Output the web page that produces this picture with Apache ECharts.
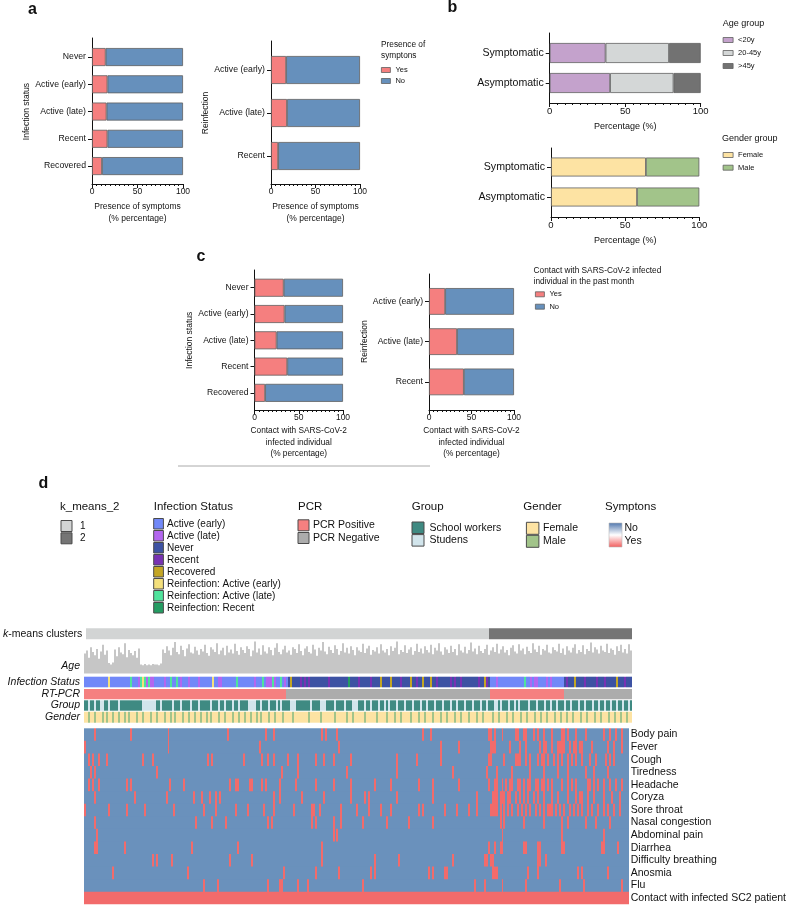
<!DOCTYPE html>
<html><head><meta charset="utf-8">
<script src="https://cdn.jsdelivr.net/npm/echarts@6/dist/echarts.min.js"></script>
<style>html,body{margin:0;padding:0;background:#fff}#c{width:789px;height:908px}</style>
</head><body><div id="c"></div><script>
// ---------------- DATA ----------------
const infectionStatus = ['Never','Active (early)','Active (late)','Recent','Recovered'];
const reinfection = ['Active (early)','Active (late)','Recent'];
const symptomsYesInf = [15, 17, 16, 17, 11];
const symptomsNoInf  = [85, 83, 84, 83, 89];
const symptomsYesRe  = [17, 18, 8];
const symptomsNoRe   = [83, 82, 92];
const contactYesInf  = [33, 34, 25, 37, 12];
const contactNoInf   = [67, 66, 75, 63, 88];
const contactYesRe   = [19, 33, 41];
const contactNoRe    = [81, 67, 59];
const symGroups = ['Symptomatic','Asymptomatic'];
const ageLt20   = [37, 40];
const age20to45 = [42, 42];
const ageGt45   = [21, 18];
const femalePct = [64, 58];
const malePct   = [36, 42];

// heatmap (274 sample columns)
const N = 274;
const kmeansCluster2Start = 202;
const pcrPositiveRuns = [[0,100],[203,239]];
const statusNames = ['Active (early)','Active (late)','Never','Recent','Recovered','Reinfection: Active (early)','Reinfection: Active (late)','Reinfection: Recent'];
const statusBaseRuns = [[0,101,0],[102,202,2],[203,239,0],[240,273,2]];
const statusMarks = [[12,5],[23,6],[27,1],[28,6],[29,5],[30,6],[31,1],[32,6],[33,1],[34,1],[40,1],[43,6],[46,6],[48,1],[52,1],[57,1],[64,5],[67,1],[68,1],[76,6],[85,1],[89,6],[91,1],[92,1],[93,1],[94,6],[95,1],[98,6],[100,1],
  [103,4],[108,3],[110,3],[112,3],[122,3],[132,7],[137,3],[143,3],[148,4],[153,4],[158,3],[163,4],[166,3],[169,4],[173,4],[176,3],[183,3],[185,3],[188,3],[197,3],[200,4],[201,3],
  [206,1],[220,6],[223,1],[225,1],[226,1],[231,1],[233,1],
  [241,3],[245,4],[250,3],[256,3],[260,3],[266,4],[270,3]];
const groupStudentCols = [2,5,8,9,12,17,29,30,31,32,33,34,35,38,44,48,53,57,63,67,70,74,77,82,83,84,85,88,92,96,98,103,104,105,113,118,119,120,125,130,134,135,136,140,143,147,150,152,156,160,164,168,171,175,179,183,186,190,194,198,201,205,206,208,212,215,217,222,226,230,233,236,240,243,247,250,254,257,260,263,266,269,272];
const genderMaleCols = [2,5,9,11,14,17,20,22,26,29,33,36,40,43,45,49,52,55,58,61,63,67,70,74,77,80,83,86,88,92,95,99,104,112,118,125,131,134,140,146,151,155,158,163,167,170,174,178,181,185,188,192,196,199,204,207,211,214,218,221,225,228,231,235,238,241,244,248,251,255,258,262,265,268,271];
const ageValues = [
 38,44,30,50,41,35,47,28,42,55,36,44,20,17,21,46,33,50,40,37,
 58,31,45,39,35,43,30,48,17,16,18,16,17,16,18,17,17,16,19,46,
 39,52,44,35,49,60,41,37,53,45,33,48,56,40,38,51,44,36,47,42,
 55,39,34,50,46,41,58,37,44,49,35,53,40,46,38,57,43,36,50,45,
 39,52,47,33,44,61,40,48,36,54,42,38,50,45,35,49,58,41,37,46,
 53,40,44,36,50,47,39,56,43,35,48,52,41,38,55,46,34,49,44,60,
 42,37,51,45,39,54,47,36,43,58,40,49,38,52,45,35,50,44,41,57,
 39,48,53,36,45,42,50,38,56,44,40,47,35,52,43,49,61,37,45,41,
 54,39,46,50,36,43,57,41,48,38,52,45,40,55,37,49,44,58,42,36,
 50,46,39,53,41,47,35,56,44,40,51,38,45,59,42,48,37,53,43,39,
 47,55,36,44,50,41,57,38,46,52,40,45,35,49,54,42,38,56,44,48,
 37,51,43,39,58,46,41,53,36,47,44,55,40,38,50,45,42,57,39,48,
 36,52,44,40,49,56,38,45,41,54,37,47,43,59,40,50,46,38,53,44,
 41,57,39,48,45,36,52,43,55,40,47,38,56,44];
const symptomNames = ['Body pain','Fever','Cough','Tiredness','Headache','Coryza','Sore throat','Nasal congestion','Abdominal pain','Diarrhea','Difficulty breathing','Anosmia','Flu','Contact with infected SC2 patient'];
const symptomYesCols = [
 [5,23,42,72,91,95,119,121,127,170,174,203,204,206,210,217,218,221,222,226,228,231,235,240,241,243,247,252,261,264,267,270],
 [0,42,88,128,179,188,204,205,206,214,219,222,229,231,232,235,238,239,240,241,244,246,247,249,250,255,263,266,270],
 [2,4,7,11,29,34,62,64,80,89,92,95,102,107,116,120,125,134,157,167,179,203,204,211,217,218,219,222,224,228,230,231,233,236,238,240,243,245,247,250,254,257,262,264,266],
 [3,5,36,99,107,132,157,185,202,207,215,224,231,238,243,252,256,263],
 [2,4,7,21,23,43,50,73,76,77,83,84,89,91,98,106,116,125,134,146,154,168,175,188,203,206,207,210,212,214,215,218,219,221,223,224,227,228,230,231,233,235,240,243,245,247,253,254,256,258,261,264,267,270],
 [5,25,41,55,59,63,66,68,95,98,109,120,134,141,143,157,175,197,205,206,207,209,210,211,213,214,217,219,221,223,226,228,231,235,238,243,247,249,250,253,256,261,265,269],
 [0,12,21,30,45,60,66,76,82,90,95,105,114,115,118,129,137,143,149,154,168,170,181,187,193,197,204,205,206,207,209,211,213,215,218,220,222,224,227,229,231,233,234,235,237,239,241,244,246,248,250,253,255,258,261,263,266,269],
 [5,56,64,71,92,94,114,116,125,129,140,152,163,175,209,211,221,231,240,243,252,257,264],
 [6,125,127,210,240,261],
 [5,6,20,54,77,119,203,206,209,210,221,222,228,229,240,241,260,261,268],
 [34,36,44,73,84,119,146,158,185,201,202,204,205,228,229,232],
 [14,52,100,116,128,144,146,173,175,181,182,205,206,207,223,228,248,250,263],
 [60,67,92,98,99,107,112,140,196,201,210,222,239,251,270],
 null
];
const contactNoCols = [];

// ---------------- COLOURS ----------------
const RED = '#f57f7f', BLUE = '#6690bc';
const FONT = '"Liberation Sans", Arial, sans-serif';
const statusColors = ['#7188f8','#b366ef','#3d52a3','#7832b3','#c4a624','#f4e07c','#4fe39c','#249c62'];

// ---------------- BUILD ----------------
const grids=[], xAxes=[], yAxes=[], series=[], legends=[], graphics=[];
function addGrid(g){ grids.push(Object.assign({containLabel:false, show:false}, g)); return grids.length-1; }

function barPanel(o){
  const gf = addGrid({left:o.left, width:o.width, top:o.axTop, height:o.axBottom-o.axTop});
  xAxes.push({gridIndex:gf, type:'value', min:0, max:100, interval:50,
    axisLine:{show:true, lineStyle:{color:'#111',width:1}},
    axisTick:{show:true,length:4,lineStyle:{color:'#111'}},
    minorTick:{show:true, splitNumber:10, length:2, lineStyle:{color:'#111'}},
    splitLine:{show:false}, minorSplitLine:{show:false},
    axisLabel:{fontSize:o.tickFont, color:'#111', margin:3, fontFamily:FONT},
    name:o.xName, nameLocation:'middle', nameGap:o.xNameGap,
    nameTextStyle:{fontSize:o.xNameFont, color:'#111', fontFamily:FONT, lineHeight:o.xNameLH}});
  yAxes.push({gridIndex:gf, type:'value', min:0, max:1, axisLine:{show:true, lineStyle:{color:'#111'}}, axisTick:{show:false}, axisLabel:{show:false}, splitLine:{show:false}});
  const gb = addGrid({left:o.left, width:o.width, top:o.barTop, height:o.barBottom-o.barTop});
  xAxes.push({gridIndex:gb, type:'value', min:0, max:100, show:false});
  yAxes.push({gridIndex:gb, type:'category', data:o.cats, inverse:true,
    axisLine:{show:false}, axisTick:{show:true, alignWithLabel:true, length:4, lineStyle:{color:'#111'}},
    axisLabel:{fontSize:o.catFont, color:'#111', margin:6, fontFamily:FONT, interval:0},
    name:o.yName||'', nameLocation:'middle', nameRotate:90, nameGap:o.yNameGap||0,
    nameTextStyle:{fontSize:o.yNameFont||8.5, color:'#111', fontFamily:FONT}});
  const xb = xAxes.length-1, yb = yAxes.length-1;
  o.series.forEach(s=>series.push({type:'bar', name:s.name, stack:'st'+gb, xAxisIndex:xb, yAxisIndex:yb,
    data:s.data, barWidth:o.barW, itemStyle:{color:s.color, borderColor:'#606060', borderWidth:0.8},
    emphasis:{disabled:true}, silent:true, animation:false}));
}

// Panel a
barPanel({left:92,width:91,axTop:38,axBottom:184,barTop:43.4,barBottom:179.7,barW:18,cats:infectionStatus,
  catFont:8.7,tickFont:8.5,xName:'Presence of symptoms\n(% percentage)',xNameGap:17,xNameFont:8.5,xNameLH:12,
  yName:'Infection status',yNameGap:58,yNameFont:8.5,
  series:[{name:'Yes',data:symptomsYesInf,color:RED},{name:'No',data:symptomsNoInf,color:BLUE}]});
barPanel({left:271,width:89,axTop:41,axBottom:184,barTop:48.5,barBottom:177.5,barW:28,cats:reinfection,
  catFont:8.7,tickFont:8.5,xName:'Presence of symptoms\n(% percentage)',xNameGap:17,xNameFont:8.5,xNameLH:12,
  yName:'Reinfection',yNameGap:58,yNameFont:8.5,
  series:[{name:'Yes',data:symptomsYesRe,color:RED},{name:'No',data:symptomsNoRe,color:BLUE}]});
// Panel b
barPanel({left:549.7,width:151,axTop:33,axBottom:103,barTop:38,barBottom:98,barW:20,cats:symGroups,
  catFont:10.6,tickFont:9.5,xName:'Percentage (%)',xNameGap:18,xNameFont:9,xNameLH:12,
  series:[{name:'<20y',data:ageLt20,color:'#c4a2cc'},{name:'20-45y',data:age20to45,color:'#d4d7d7'},{name:'>45y',data:ageGt45,color:'#727272'}]});
barPanel({left:551,width:148.3,axTop:148,axBottom:217,barTop:152,barBottom:212,barW:19,cats:symGroups,
  catFont:10.6,tickFont:9.5,xName:'Percentage (%)',xNameGap:17.5,xNameFont:9,xNameLH:12,
  series:[{name:'Female',data:femalePct,color:'#fde3a3'},{name:'Male',data:malePct,color:'#a2c48a'}]});
// Panel c
barPanel({left:254.5,width:88.5,axTop:270,axBottom:410,barTop:274.6,barBottom:406,barW:18,cats:infectionStatus,
  catFont:8.6,tickFont:8.5,xName:'Contact with SARS-CoV-2\ninfected individual\n(% percentage)',xNameGap:15,xNameFont:8.3,xNameLH:11.5,
  yName:'Infection status',yNameGap:58,yNameFont:8.5,
  series:[{name:'Yes',data:contactYesInf,color:RED},{name:'No',data:contactNoInf,color:BLUE}]});
barPanel({left:429,width:85,axTop:274,axBottom:410,barTop:281.3,barBottom:402,barW:26.7,cats:reinfection,
  catFont:8.6,tickFont:8.5,xName:'Contact with SARS-CoV-2\ninfected individual\n(% percentage)',xNameGap:15,xNameFont:8.3,xNameLH:11.5,
  yName:'Reinfection',yNameGap:54,yNameFont:8.5,
  series:[{name:'Yes',data:contactYesRe,color:RED},{name:'No',data:contactNoRe,color:BLUE}]});

function legend(names, left, top, gap, iw, ih){
  legends.push({data:names, left, top, orient:'vertical', itemWidth:iw, itemHeight:ih, itemGap:gap, icon:'rect',
    selectedMode:false, padding:0, itemStyle:{borderColor:'#606060',borderWidth:0.8},
    textStyle:{fontSize:7.5, fontFamily:FONT, color:'#111', lineHeight:8}});
}
legend(['Yes','No'], 381, 66, 3, 9, 5);
legend(['<20y','20-45y','>45y'], 722.7, 36, 5, 10, 5);
legend(['Female','Male'], 722.7, 151, 4.7, 10, 5);
legend(['Yes','No'], 535, 290.3, 4.4, 9, 5);

function txt(text, x, y, size, opts){
  graphics.push({type:'text', x, y, silent:true, style:Object.assign({text, fontSize:size, fontFamily:FONT, fill:'#111', align:'left', verticalAlign:'middle'}, opts||{})});
}
txt('a', 32.5, 10, 16, {fontWeight:'bold', align:'center'});
txt('b', 452.5, 8, 16, {fontWeight:'bold', align:'center'});
txt('c', 201, 257, 16, {fontWeight:'bold', align:'center'});
txt('d', 43.5, 484, 16, {fontWeight:'bold', align:'center'});
txt('Presence of\nsymptons', 381, 50, 8.3, {lineHeight:11.5});
txt('Age group', 722.7, 24, 9);
txt('Gender group', 722, 139, 9);
txt('Contact with SARS-CoV-2 infected\nindividual in the past month', 533.6, 276, 8.3, {lineHeight:10.5});
graphics.push({type:'line', silent:true, shape:{x1:178,y1:466,x2:430,y2:466}, style:{stroke:'#aaaaaa', lineWidth:1}});

// ---- heatmap: per-sample values grouped into runs, drawn through the category axes
const cols = Array.from({length:N},(_,i)=>i);
function toRuns(rowValues, r){ // rowValues: array of N category codes
  const out=[]; let s=0;
  for(let i=1;i<=N;i++){ if(i===N || rowValues[i]!==rowValues[s]){ out.push([s,i-1,r,rowValues[s]]); s=i; } }
  return out;
}
function heat(top, height, rowLabels, rowsValues, colors, yOpts){
  const g = addGrid({left:84, width:548, top, height});
  xAxes.push({gridIndex:g, type:'category', data:cols, show:false});
  yAxes.push(Object.assign({gridIndex:g, type:'category', data:rowLabels, inverse:true, axisLine:{show:false}, axisTick:{show:false}, splitLine:{show:false},
    axisLabel:{fontSize:10.5, fontStyle:'italic', color:'#111', margin:4, fontFamily:FONT, interval:0}}, yOpts||{}));
  const data = []; rowsValues.forEach((rv,r)=>toRuns(rv,r).forEach(d=>data.push(d)));
  const last = rowsValues.length-1;
  series.push({type:'custom', xAxisIndex:xAxes.length-1, yAxisIndex:yAxes.length-1, data, silent:true, animation:false,
    encode:{x:[0,1], y:2},
    renderItem:(params, api)=>{
      const a = api.coord([api.value(0), api.value(2)]);
      const b = api.coord([api.value(1), api.value(2)]);
      const s = api.size([1,1]);
      const x0 = Math.round(a[0]-s[0]/2), x1 = Math.round(b[0]+s[0]/2);
      const extra = api.value(2) < last ? 1 : 0;
      return {type:'rect', shape:{x:x0, y:a[1]-s[1]/2, width:x1-x0, height:s[1]+extra}, style:{fill:colors[api.value(3)]}};
    }});
}
heat(628.3, 11, ['k-means clusters'], [cols.map(c=>c>=kmeansCluster2Start?1:0)],
  ['#d2d4d4','#757575'],
  {axisLabel:{fontSize:10.5, color:'#111', margin:4, fontFamily:FONT, interval:0, formatter:()=>'{i|k}-means clusters', rich:{i:{fontStyle:'italic',fontSize:10.5,fontFamily:FONT}}}});
// age bars
{
  const g = addGrid({left:84, width:548, top:640, height:33.5});
  xAxes.push({gridIndex:g, type:'category', data:cols, show:false});
  yAxes.push({gridIndex:g, type:'value', min:0, max:64, show:false});
  series.push({type:'bar', xAxisIndex:xAxes.length-1, yAxisIndex:yAxes.length-1, data:ageValues, barCategoryGap:'0%', itemStyle:{color:'#c6c6c6'}, silent:true, animation:false});
  txt('Age', 80, 666, 10.5, {align:'right', fontStyle:'italic'});
}
const statusArr = new Array(N).fill(0);
statusBaseRuns.forEach(([a,b,v])=>{for(let i=a;i<=b;i++) statusArr[i]=v;});
statusMarks.forEach(([c,v])=>statusArr[c]=v);
heat(676.7, 10.6, ['Infection Status'], [statusArr], statusColors);
const pcrArr = cols.map(c=>pcrPositiveRuns.some(([a,b])=>c>=a&&c<=b)?1:0);
heat(689, 10.3, ['RT-PCR'], [pcrArr], ['#acacac','#f58080']);
heat(700.3, 10.4, ['Group'], [cols.map(c=>groupStudentCols.includes(c)?1:0)], ['#3f8a82','#d2e5ec']);
heat(711.7, 11, ['Gender'], [cols.map(c=>genderMaleCols.includes(c)?1:0)], ['#fde3a3','#a2c48a']);
const symRows = symptomNames.map((nm,r)=>{
  const yes = symptomYesCols[r];
  return cols.map(c=> yes ? (yes.includes(c)?1:0) : (contactNoCols.includes(c)?0:1));
});
heat(728.3, 176, symptomNames, symRows, ['#6a91bc','#f26b6b'],
  {position:'right', axisLabel:{fontSize:10.5, color:'#111', margin:2, fontFamily:FONT, interval:0}});

// ---- panel d legend (graphic)
function box(x,y,w,h,fill){ graphics.push({type:'rect', silent:true, shape:{x,y,width:w,height:h}, style:{fill, stroke:'#4a4a4a', lineWidth:1}}); }
const LT = 507;
txt('k_means_2', 60, LT, 11.5);
['1','2'].forEach((t,i)=>{ box(61,520.5+12.3*i,11,11,['#d2d4d4','#757575'][i]); txt(t,80,526+12.3*i,10); });
txt('Infection Status', 153.7, LT, 11.5);
statusNames.forEach((t,i)=>{ box(153.7,518.5+12*i,9.7,10.5,statusColors[i]); txt(t,167,524+12*i,10); });
txt('PCR', 298, LT, 11.5);
['PCR Positive','PCR Negative'].forEach((t,i)=>{ box(298,519.8+12.7*i,11,11,['#f58080','#acacac'][i]); txt(t,313,525.3+12.7*i,10.5); });
txt('Group', 411.7, LT, 11.5);
['School workers','Studens'].forEach((t,i)=>{ box(412,522+12.6*i,12,11.5,['#3f8a82','#d2e5ec'][i]); txt(t,429.5,527.7+12.6*i,10.5); });
txt('Gender', 523.3, LT, 11.5);
['Female','Male'].forEach((t,i)=>{ box(526.4,522.3+13*i,12.5,12,['#fde3a3','#a2c48a'][i]); txt(t,543,528+13*i,10.5); });
txt('Symptons', 605, LT, 11.5);
graphics.push({type:'rect', silent:true, shape:{x:609,y:523,width:13,height:24},
  style:{fill:new echarts.graphic.LinearGradient(0,0,0,1,[{offset:0,color:'#4f76ad'},{offset:0.5,color:'#ffffff'},{offset:1,color:'#f25c5c'}]), stroke:'#bbbbbb', lineWidth:0.6}});
txt('No', 624.5, 528, 10.5);
txt('Yes', 624.5, 541, 10.5);

const chart = echarts.init(document.getElementById('c'), null, {renderer:'canvas', width:789, height:908});
chart.setOption({animation:false, backgroundColor:'#ffffff', textStyle:{fontFamily:FONT},
  grid:grids, xAxis:xAxes, yAxis:yAxes, series, legend:legends, graphic:graphics});
</script></body></html>
